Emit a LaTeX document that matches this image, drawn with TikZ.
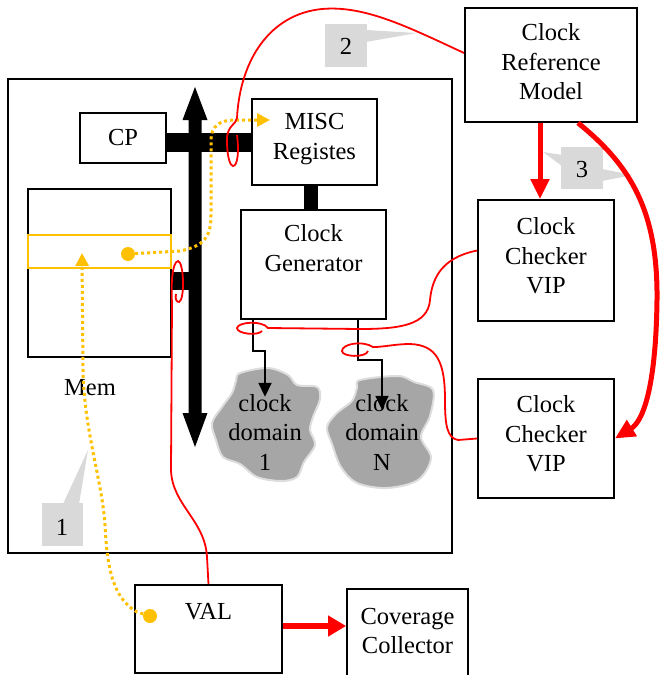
\documentclass[tikz,border=0pt]{standalone}
\usepackage{fontspec}
\setmainfont{Liberation Serif}
\usetikzlibrary{arrows.meta}
\definecolor{ylw}{HTML}{FFC000}
\definecolor{callgray}{HTML}{D9D9D9}
\definecolor{cloudfill}{HTML}{A6A6A6}
\definecolor{cloudedge}{HTML}{DDDDDD}
\begin{document}
\begin{tikzpicture}[x=1pt,y=-1pt,
  font=\fontsize{24.5}{29.5}\selectfont,
  box/.style={draw=black, line width=1.8pt, fill=white, inner sep=0pt, align=center},
  lbl/.style={inner sep=0pt, align=center},
  bar/.style={draw=black, line width=#1},
  redthin/.style={draw=red, line width=1.8pt},
  redthick/.style={draw=red, line width=5pt, -{Triangle[length=20pt,width=18pt]}},
  ydots/.style={draw=ylw, line width=3pt, dash pattern=on 3pt off 3pt},
  yarrow/.style={-{Triangle[length=13pt,width=13pt]}},
  clk/.style={draw=black, line width=1.8pt, -{Triangle[length=14pt,width=13pt]}},
  blob/.style={fill=cloudfill, draw=cloudedge, line width=2pt},
  callout/.style={fill=callgray}
]
\useasboundingbox (0,0) rectangle (660,675);

% outer frame
\node[box, fill=none, minimum width=444pt, minimum height=474pt] (outer) at (230,316) {};

% top-level boxes
\node[box, minimum width=172pt, minimum height=114pt] (ref) at (551,65) {};
\node[lbl] (reftxt) at (551,62) {Clock\\Reference\\Model};
\node[box, minimum width=136pt, minimum height=121pt] (chk1) at (546,260.5) {};
\node[lbl] (chk1txt) at (546,256) {Clock\\Checker\\VIP};
\node[box, minimum width=136pt, minimum height=119pt] (chk2) at (546,438.5) {};
\node[lbl] (chk2txt) at (546,434) {Clock\\Checker\\VIP};
\node[box, minimum width=147pt, minimum height=88pt] (val) at (208.5,629) {};
\node[lbl] (valtxt) at (208.5,612) {VAL};
\node[box, minimum width=121pt, minimum height=88pt] (cov) at (407.5,633) {};
\node[lbl] (covtxt) at (407.5,631) {Coverage\\Collector};

% inner boxes
\node[box, minimum width=86pt, minimum height=50pt] (cp) at (123,138) {CP};
\node[box, minimum width=125pt, minimum height=86pt] (misc) at (314.5,142) {};
\node[lbl] (misctxt) at (314.5,139) {MISC\\Registes};
\node[box, minimum width=145pt, minimum height=109pt] (gen) at (313.5,264.5) {};
\node[lbl] (gentxt) at (313.5,248) {Clock\\Generator};
\node[box, minimum width=143pt, minimum height=168pt] (mem) at (99.5,273) {};
\node[draw=ylw, line width=2.2pt, minimum width=143pt, minimum height=33pt, inner sep=0pt] (memrow) at (99.5,251.5) {};
\node[lbl] (memtxt) at (90,388) {Mem};

% bus
\fill[black] (188.5,120) -- (182.5,120) -- (195,87) -- (207.5,120) -- (201.5,120)
  -- (201.5,413) -- (207.5,413) -- (195,447) -- (182.5,413) -- (188.5,413) -- cycle;
\draw[bar=19pt] (cp.east |- misc.west) -- (misc.west);
\draw[bar=18pt] ([yshift=-8pt]mem.east) -- ++(24,0);
\draw[bar=14pt] ([xshift=-4pt]misc.south) -- ([xshift=-4pt]misc.south |- gen.north);

% clouds (irregular blobs)
\draw[blob] plot[smooth cycle, tension=0.55] coordinates {
  (240,373) (268,368) (288,375) (297,385) (317,387) (320,399) (313,417) (310,430)
  (315,445) (304,462) (297,477) (281,481) (257,477) (240,464) (223,457) (216,440)
  (212,423) (222,407) (232,393) (236,381)};
\draw[blob] plot[smooth cycle, tension=0.55] coordinates {
  (360,380) (398,376) (414,382) (433,390) (430,416) (421,437) (431,458) (418,480)
  (387,488) (357,483) (341,467) (332,444) (327,427) (337,413) (352,401) (357,388)};
\node[lbl] (cd1) at (265,432) {clock\\domain\\1};
\node[lbl] (cdN) at (382,432) {clock\\domain\\N};

% clock outputs
\draw[clk] ([xshift=-60.5pt]gen.south) -- ++(0,31) -| ([yshift=-3pt]cd1.north);
\draw[clk] ([xshift=44.5pt]gen.south) -- ++(0,40) -| ([yshift=-16pt]cdN.north);

% callouts
\fill[callout] (325,24) rectangle (367,67);
\fill[callout] (366,30) -- (417,33) -- (366,42) -- cycle;
\node[lbl] (c2) at (346,46) {2};
\fill[callout] (561,147) rectangle (603,189);
\fill[callout] (562,155) -- (543,152) -- (562,166) -- cycle;
\fill[callout] (602,169) -- (633,175) -- (602,181) -- cycle;
\node[lbl] (c3) at (582,170) {3};
\fill[callout] (42,503) rectangle (83,546);
\fill[callout] (63,504) -- (88,450) -- (79,504) -- cycle;
\node[lbl] (c1) at (62,527) {1};

% yellow dotted flows
\node[circle, fill=ylw, minimum size=14pt, inner sep=0pt] (ydot1) at (128,254) {};
\node[circle, fill=ylw, minimum size=14pt, inner sep=0pt] (ydot2) at (150,616) {};
\coordinate (ytip1) at (270,120);
\coordinate (ytip2) at (82,253);
\draw[ydots, yarrow, ylw] (ydot1) -- (180,251) .. controls (205,246) and (211,236) .. (211,215)
  -- (211,140) .. controls (211,126) and (220,120) .. (235,120) -- (ytip1);
\draw[ydots, yarrow, ylw] (ydot2) -- (137,612) .. controls (112,598) and (107,565) .. (105,525)
  .. controls (102,480) and (84,430) .. (83,370) -- (ytip2);

% red thin traces
\draw[redthin] ([yshift=12pt]ref.west) .. controls (410,28) and (365,5) .. (322,9)
  .. controls (270,14) and (240,60) .. (237,118)
  .. controls (236,125) and (227,125) .. (227,140)
  .. controls (227,160) and (231,166) .. (233,166)
  .. controls (238,166) and (239,150) .. (237,135);
\draw[redthin] ([yshift=10pt]chk1.west) .. controls (440,258) and (432,280) .. (430,300)
  .. controls (428,325) and (400,329) .. (360,329) -- (268,328)
  .. controls (262,320) and (238,322) .. (237,328)
  .. controls (237,334) and (258,336) .. (262,331);
\draw[redthin] (chk2.west) -- (458,440) .. controls (447,438) and (445,425) .. (445,400)
  .. controls (445,362) and (437,345) .. (410,344)
  .. controls (395,344) and (385,347) .. (373,347)
  .. controls (362,340) and (342,344) .. (342,351)
  .. controls (342,357) and (366,358) .. (368,351);
\draw[redthin] (val.north) -- (207,557) .. controls (205,520) and (172,505) .. (171,470)
  -- (172,303) .. controls (171,285) and (172,262) .. (178,261)
  .. controls (184,262) and (185,300) .. (179,302)
  .. controls (176,302) and (175,298) .. (176,294);

% red thick arrows
\draw[redthick] ([xshift=-11pt]ref.south) -- ([xshift=-6pt]chk1.north);
\draw[redthick] ([xshift=27pt]ref.south) .. controls (630,165) and (658,210) .. (657,300)
  .. controls (656,380) and (645,420) .. (chk2.east);
\draw[redthick, line width=6pt, -{Triangle[length=18pt,width=20pt]}] ([yshift=3pt]val.east) -- ([yshift=3pt]val.east -| cov.west);
\end{tikzpicture}
\end{document}
